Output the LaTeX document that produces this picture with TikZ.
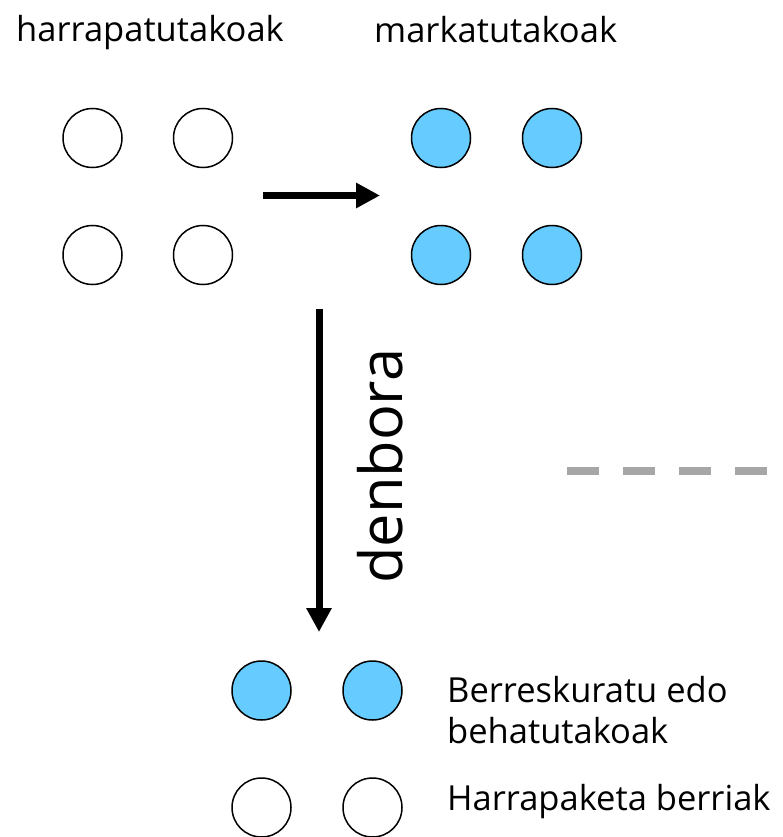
\documentclass[tikz,border=0pt]{standalone}
\usepackage{fontspec}
\setmainfont{Open Sans}
\usetikzlibrary{arrows.meta}
\definecolor{markblue}{HTML}{66CCFF}
\definecolor{dashgray}{HTML}{A6A6A6}
\tikzset{
  animal/.style={circle, draw=black, line width=1.5pt, minimum size=59pt, inner sep=0pt},
  plain/.style={animal, fill=white},
  marked/.style={animal, fill=markblue},
  lbl/.style={anchor=base west, inner sep=0pt, font=\fontsize{34.5}{41}\selectfont},
  bigarrow/.style={line width=7pt, -{Triangle[length=24pt,width=24pt]}},
}
\begin{document}
\begin{tikzpicture}[x=1pt,y=-1pt]
\useasboundingbox (0,0) rectangle (782,837);
% titles
\node[lbl] (t1) at (16,42) {harrapatutakoak};
\node[lbl] (t2) at (374,43) {markatutakoak};
% captured
\node[plain] (c11) at (92.5,138) {};
\node[plain] (c12) at (203,138) {};
\node[plain] (c21) at (92.5,255) {};
\node[plain] (c22) at (203,255) {};
% marked
\node[marked] (m11) at (441,138) {};
\node[marked] (m12) at (552,138) {};
\node[marked] (m21) at (441,255) {};
\node[marked] (m22) at (552,255) {};
% horizontal arrow
\coordinate (h1) at (263,195.5);
\coordinate (h2) at (380,195.5);
\draw[bigarrow] (h1) -- (h2);
% vertical arrow
\coordinate (v1) at (319,309);
\coordinate (v2) at (319,632);
\draw[bigarrow] (v1) -- (v2);
\node[anchor=base west, inner sep=0pt, rotate=90, font=\fontsize{59.5}{70}\selectfont] (den) at (402,584) {denbora};
% dashed line
\coordinate (d1) at (567,471);
\coordinate (d2) at (767,471);
\draw[dashgray, line width=8pt, dash pattern=on 32pt off 24pt] (d1) -- (d2);
% bottom
\node[marked] (b11) at (261.5,690.5) {};
\node[marked] (b12) at (372.5,690.5) {};
\node[plain] (b21) at (261.5,807.5) {};
\node[plain] (b22) at (372.5,807.5) {};
\node[lbl] (l1) at (447,702) {Berreskuratu edo};
\node[lbl] (l1b) at (447,743) {behatutakoak};
\node[lbl] (l2) at (447,810) {Harrapaketa berriak};
\end{tikzpicture}
\end{document}
